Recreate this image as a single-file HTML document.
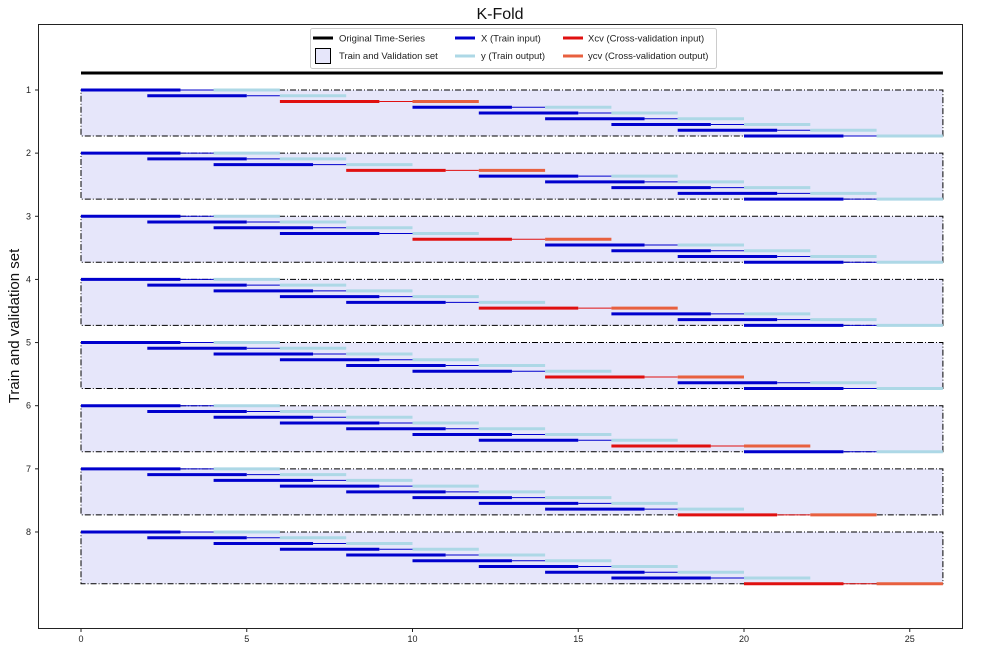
<!DOCTYPE html>
<html><head><meta charset="utf-8"><style>
html,body{margin:0;padding:0;background:#fff;}
svg{display:block;font-family:"Liberation Sans","DejaVu Sans",sans-serif;}
</style></head><body>
<svg id="s" width="1000" height="651" viewBox="0 0 1000 651" xmlns="http://www.w3.org/2000/svg">
<rect x="0" y="0" width="1000" height="651" fill="#fff"/>
<text x="500" y="19" font-size="16" text-anchor="middle" fill="#111">K-Fold</text>
<text transform="translate(19,326) rotate(-90)" font-size="15" text-anchor="middle" fill="#111">Train and validation set</text>
<g id="plot"></g>
<rect x="38.5" y="24.5" width="924" height="604" fill="none" stroke="#222" stroke-width="1"/>
<g id="ticks" font-size="9" fill="#222"></g>
<g>
<rect x="310.5" y="28.5" width="406" height="40" fill="#fff" stroke="#ccc" rx="2"/>
<line x1="313" y1="38" x2="333" y2="38" stroke="#000" stroke-width="3"/>
<text x="339" y="41.5" font-size="9.5" fill="#222">Original Time-Series</text>
<rect x="315.5" y="48.5" width="15" height="15" fill="#e6e6fa" stroke="#000"/>
<text x="339" y="59" font-size="9.5" fill="#222">Train and Validation set</text>
<line x1="455" y1="38" x2="475" y2="38" stroke="#0000cd" stroke-width="3"/>
<text x="481" y="41.5" font-size="9.5" fill="#222">X (Train input)</text>
<line x1="455" y1="56" x2="475" y2="56" stroke="#add8e6" stroke-width="3"/>
<text x="481" y="59" font-size="9.5" fill="#222">y (Train output)</text>
<line x1="563" y1="38" x2="583" y2="38" stroke="#e01010" stroke-width="3"/>
<text x="588" y="41.5" font-size="9.5" fill="#222">Xcv (Cross-validation input)</text>
<line x1="563" y1="56" x2="583" y2="56" stroke="#e8603f" stroke-width="3"/>
<text x="588" y="59" font-size="9.5" fill="#222">ycv (Cross-validation output)</text>
</g>
</svg>
<script>
(function(){
var NS="http://www.w3.org/2000/svg";
var P=document.getElementById("plot"),T=document.getElementById("ticks");
function X(v){return 81+33.15*v;}
function el(p,t,a,txt){var e=document.createElementNS(NS,t);for(var k in a)e.setAttribute(k,a[k]);if(txt!==undefined)e.textContent=txt;p.appendChild(e);return e;}
function ln(x1,x2,y,c,w){el(P,"line",{x1:x1,x2:x2,y1:y,y2:y,stroke:c,"stroke-width":w});}
el(P,"line",{x1:X(0),x2:X(26),y1:73,y2:73,stroke:"#000","stroke-width":3});
for(var k=1;k<=8;k++){
  var rowTop=90+(k-1)*63.14;
  var subs=[];
  for(var a=0;a<=2*k;a+=2)subs.push([a,0]);
  subs.push([2*k+4,1]);
  for(var a2=2*k+8;a2<=20;a2+=2)subs.push([a2,0]);
  var h=(subs.length-1)*5.75;
  el(P,"rect",{x:X(0),y:rowTop,width:X(26)-X(0),height:h,fill:"#e6e6fa",stroke:"#000","stroke-width":1,"stroke-dasharray":"6,2,1,2"});
  for(var i=0;i<subs.length;i++){
    var y=rowTop+i*5.75,s=subs[i][0],cv=subs[i][1];
    var c1=cv?"#e01010":"#0000cd",c2=cv?"#e8603f":"#add8e6";
    ln(X(s+3),X(s+4),y,c1,1);
    ln(X(s+4),X(s+6),y,c2,3);
    ln(X(s),X(s+3),y,c1,3);
  }
  el(T,"line",{x1:35,x2:38.5,y1:rowTop,y2:rowTop,stroke:"#222"});
  el(T,"text",{x:31,y:rowTop+3,"text-anchor":"end"},String(k));
}
for(var v=0;v<=25;v+=5){
  el(T,"line",{x1:X(v),x2:X(v),y1:628.5,y2:632,stroke:"#222"});
  el(T,"text",{x:X(v),y:642,"text-anchor":"middle"},String(v));
}
})();
</script>
</body></html>
